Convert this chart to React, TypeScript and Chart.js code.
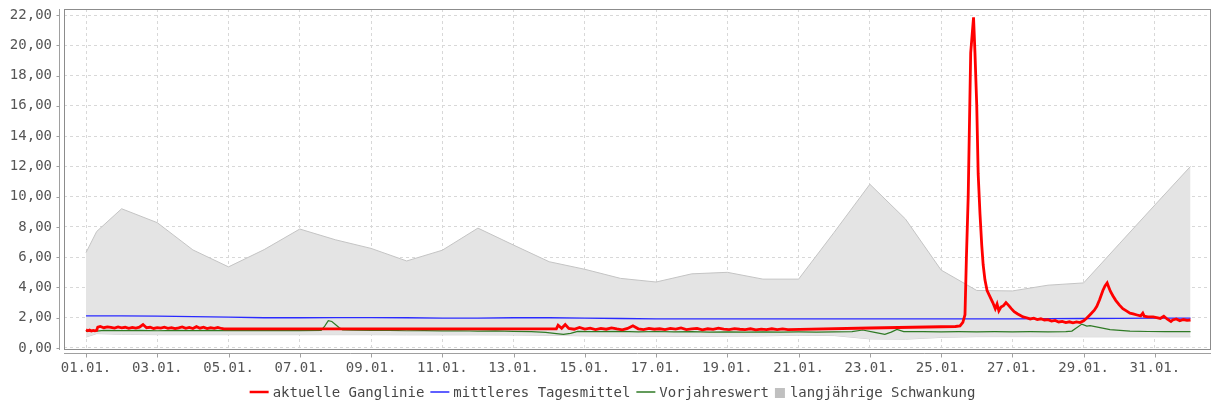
import React, { useEffect, useRef } from 'react';
import { Chart, registerables } from 'chart.js';

Chart.register(...registerables);

// ---- axis ticks ----
const xTickDays = [0, 2, 4, 6, 8, 10, 12, 14, 16, 18, 20, 22, 24, 26, 28, 30];
const xTickLabels = ['01.01.', '03.01.', '05.01.', '07.01.', '09.01.', '11.01.', '13.01.', '15.01.', '17.01.', '19.01.', '21.01.', '23.01.', '25.01.', '27.01.', '29.01.', '31.01.'];
const yTickValues = [0, 2, 4, 6, 8, 10, 12, 14, 16, 18, 20, 22];
const yTickLabels = ['0,00', '2,00', '4,00', '6,00', '8,00', '10,00', '12,00', '14,00', '16,00', '18,00', '20,00', '22,00'];

// ---- legend ----
const legendLabels = ['aktuelle Ganglinie', 'mittleres Tagesmittel', 'Vorjahreswert', 'langjährige Schwankung'];

// ---- langjährige Schwankung (band) ----
const bandDays = [0, 0.3, 1, 2, 3, 4, 5, 6, 7, 8, 9, 10, 11, 12, 13, 14, 15, 16, 17, 18, 19, 20, 21, 22, 23, 24, 25, 26, 27, 28, 29, 30, 31];
const bandUpper = [6.3, 7.7, 9.2, 8.28, 6.48, 5.36, 6.5, 7.86, 7.15, 6.58, 5.75, 6.46, 7.92, 6.8, 5.7, 5.2, 4.6, 4.36, 4.9, 5.0, 4.55, 4.55, 7.65, 10.82, 8.52, 5.15, 3.8, 3.77, 4.15, 4.3, 6.88, 9.45, 12.0];
const bandLower = [0.72, 0.95, 0.9, 0.88, 0.88, 0.88, 0.88, 0.88, 0.88, 0.88, 0.87, 0.87, 0.87, 0.86, 0.84, 0.8, 0.78, 0.76, 0.76, 0.78, 0.8, 0.84, 0.82, 0.6, 0.58, 0.7, 0.75, 0.75, 0.75, 0.74, 0.74, 0.74, 0.74];

// ---- mittleres Tagesmittel ----
const meanDays = [0, 1, 2, 3, 4, 5, 6, 7, 8, 9, 10, 11, 12, 13, 14, 15, 16, 17, 18, 19, 20, 21, 22, 23, 24, 25, 26, 27, 28, 29, 30, 31];
const meanValues = [2.12, 2.12, 2.1, 2.07, 2.04, 2.0, 2.0, 2.01, 2.01, 2.0, 1.98, 1.98, 2.0, 2.0, 1.98, 1.95, 1.93, 1.93, 1.93, 1.93, 1.92, 1.92, 1.92, 1.92, 1.92, 1.92, 1.93, 1.94, 1.95, 1.96, 1.97, 1.98];

// ---- aktuelle Ganglinie [day, value] ----
const currentSeries: [number, number][] = [
  [0, 1.2], [0.05, 1.14], [0.1, 1.18], [0.15, 1.12], [0.2, 1.16], [0.25, 1.13], [0.3, 1.17],
  [0.33, 1.38], [0.4, 1.42], [0.5, 1.34], [0.6, 1.4], [0.7, 1.36], [0.8, 1.31], [0.9, 1.39], [1.0, 1.33],
  [1.1, 1.37], [1.2, 1.3], [1.3, 1.36], [1.4, 1.32], [1.5, 1.38], [1.6, 1.55], [1.7, 1.34], [1.8, 1.37],
  [1.9, 1.29], [2.0, 1.35], [2.1, 1.31], [2.2, 1.37], [2.3, 1.3], [2.4, 1.34], [2.5, 1.28], [2.6, 1.33],
  [2.7, 1.39], [2.8, 1.3], [2.9, 1.36], [3.0, 1.29], [3.1, 1.41], [3.2, 1.31], [3.3, 1.37], [3.4, 1.28],
  [3.5, 1.34], [3.6, 1.3], [3.7, 1.36], [3.8, 1.29], [3.87, 1.26], [13.2, 1.26],
  [13.25, 1.5], [13.35, 1.3], [13.45, 1.55], [13.55, 1.29], [13.7, 1.24], [13.85, 1.36], [14.0, 1.25],
  [14.15, 1.31], [14.3, 1.22], [14.45, 1.29], [14.6, 1.24], [14.75, 1.33], [14.9, 1.26], [15.05, 1.2],
  [15.2, 1.29], [15.35, 1.47], [15.5, 1.27], [15.65, 1.22], [15.8, 1.3], [15.95, 1.24], [16.1, 1.27],
  [16.25, 1.21], [16.4, 1.29], [16.55, 1.25], [16.7, 1.33], [16.85, 1.22], [17.0, 1.26], [17.15, 1.3],
  [17.3, 1.2], [17.45, 1.27], [17.6, 1.23], [17.75, 1.31], [17.9, 1.25], [18.05, 1.21], [18.2, 1.28],
  [18.35, 1.24], [18.5, 1.22], [18.65, 1.27], [18.8, 1.2], [18.95, 1.25], [19.1, 1.21], [19.25, 1.27],
  [19.4, 1.22], [19.55, 1.26], [19.7, 1.22],
  [22.0, 1.32], [24.4, 1.42], [24.53, 1.46], [24.61, 1.7], [24.67, 2.2], [24.71, 6], [24.76, 10],
  [24.83, 19.5], [24.91, 21.85], [24.95, 19.5], [25.0, 16], [25.04, 11.5], [25.09, 8.9], [25.14, 6.8],
  [25.18, 5.5], [25.23, 4.5], [25.29, 3.8], [25.37, 3.4], [25.45, 3.0], [25.52, 2.6], [25.57, 2.9],
  [25.62, 2.45], [25.68, 2.7], [25.75, 2.8], [25.82, 3.0], [25.9, 2.8], [25.97, 2.6], [26.05, 2.4],
  [26.15, 2.25], [26.3, 2.05], [26.4, 2.0], [26.5, 1.92], [26.6, 1.97], [26.7, 1.88], [26.8, 1.93],
  [26.9, 1.85], [27.0, 1.87], [27.1, 1.78], [27.2, 1.82], [27.3, 1.72], [27.4, 1.76], [27.5, 1.68],
  [27.6, 1.73], [27.7, 1.66], [27.8, 1.72], [27.9, 1.68], [28.0, 1.8], [28.09, 1.98], [28.2, 2.25],
  [28.3, 2.5], [28.37, 2.75], [28.45, 3.2], [28.54, 3.8], [28.6, 4.1], [28.66, 4.3], [28.7, 4.05],
  [28.75, 3.75], [28.82, 3.45], [28.9, 3.15], [29.0, 2.85], [29.1, 2.6], [29.2, 2.45], [29.3, 2.3],
  [29.39, 2.25], [29.5, 2.18], [29.6, 2.12], [29.66, 2.3], [29.7, 2.1], [29.8, 2.05], [29.95, 2.05],
  [30.05, 2.0], [30.15, 1.95], [30.25, 2.1], [30.35, 1.9], [30.45, 1.75], [30.5, 1.85], [30.6, 1.92],
  [30.7, 1.8], [30.8, 1.88], [30.9, 1.82], [31.0, 1.85],
];

// ---- Vorjahreswert [day, value] ----
const previousYearSeries: [number, number][] = [
  [0, 1.1], [0.3, 1.12], [0.5, 1.17], [1, 1.15], [1.5, 1.17], [2, 1.14], [2.5, 1.17], [3, 1.15],
  [3.5, 1.17], [4, 1.15], [4.5, 1.17], [5, 1.15], [5.5, 1.17], [6, 1.15], [6.6, 1.16], [6.7, 1.45],
  [6.8, 1.8], [6.9, 1.75], [7.0, 1.55], [7.1, 1.35], [7.2, 1.2], [7.5, 1.18], [8, 1.16], [8.5, 1.17],
  [9, 1.14], [9.5, 1.15], [10, 1.13], [10.5, 1.14], [11, 1.12], [11.5, 1.13], [12, 1.1], [12.5, 1.08],
  [12.9, 1.03], [13.2, 0.95], [13.4, 0.9], [13.6, 0.97], [13.8, 1.1], [14.2, 1.08], [15, 1.1],
  [15.5, 1.07], [16, 1.09], [16.5, 1.06], [17, 1.08], [17.5, 1.05], [18, 1.07], [18.5, 1.05], [19, 1.07],
  [19.5, 1.05], [20, 1.06], [20.5, 1.05], [21, 1.07], [21.5, 1.08], [21.8, 1.19], [22.1, 1.05],
  [22.42, 0.9], [22.6, 1.05], [22.76, 1.23], [22.95, 1.08], [23.5, 1.08], [24, 1.07], [24.5, 1.08],
  [25, 1.07], [25.5, 1.08], [26, 1.07], [26.5, 1.08], [27, 1.07], [27.5, 1.08], [27.67, 1.12],
  [27.95, 1.58], [28.09, 1.45], [28.18, 1.48], [28.46, 1.35], [28.74, 1.22], [29.3, 1.12], [29.8, 1.09],
  [30.3, 1.08], [31, 1.08],
];

const FONT = "'DejaVu Sans Mono', monospace";
const RED = '#ff0000';
const BLUE = '#2a2aff';
const GREEN = '#2f7a25';
const BAND_FILL = '#e4e4e4';
const BAND_LEGEND = '#c0c0c0';

const framePlugin = {
  id: 'jfreeFrame',
  afterDraw(chart: any) {
    const { ctx, chartArea: a, scales } = chart;
    ctx.save();
    ctx.lineWidth = 1;
    // plot outline
    ctx.strokeStyle = '#8c8c8c';
    ctx.strokeRect(a.left + 0.5, a.top + 0.5, a.right - a.left - 1, a.bottom - a.top - 1);
    // offset axis lines and tick marks
    ctx.strokeStyle = '#a0a0a0';
    ctx.beginPath();
    const ax = a.left - 4.5;
    ctx.moveTo(ax, a.top);
    ctx.lineTo(ax, a.bottom);
    yTickValues.forEach((v) => {
      const py = Math.round(scales.y.getPixelForValue(v)) + 0.5;
      ctx.moveTo(ax - 3, py);
      ctx.lineTo(ax, py);
    });
    const ay = a.bottom + 3.5;
    ctx.moveTo(a.left, ay);
    ctx.lineTo(a.right, ay);
    xTickDays.forEach((v) => {
      const px = Math.round(scales.x.getPixelForValue(v)) + 0.5;
      ctx.moveTo(px, ay);
      ctx.lineTo(px, ay + 4);
    });
    ctx.stroke();
    ctx.restore();
  },
};

const legendPlugin = {
  id: 'jfreeLegend',
  afterDraw(chart: any) {
    const { ctx } = chart;
    ctx.save();
    ctx.font = `14px ${FONT}`;
    ctx.textBaseline = 'alphabetic';
    const symbols = [
      { kind: 'line', color: RED, width: 2.5 },
      { kind: 'line', color: BLUE, width: 1.5 },
      { kind: 'line', color: GREEN, width: 1.5 },
      { kind: 'box', color: BAND_LEGEND, width: 0 },
    ];
    const items = legendLabels.map((t, i) => {
      const s = symbols[i];
      const symW = s.kind === 'line' ? 19 : 10;
      const gap = s.kind === 'line' ? 4 : 5;
      return { text: t, s, symW, gap, textW: ctx.measureText(t).width };
    });
    const between = 6;
    const total = items.reduce((acc, it) => acc + it.symW + it.gap + it.textW, 0) + between * (items.length - 1);
    const centerX = 612.5;
    const cy = 392;
    let x = centerX - total / 2;
    items.forEach((it) => {
      if (it.s.kind === 'line') {
        ctx.strokeStyle = it.s.color;
        ctx.lineWidth = it.s.width;
        ctx.beginPath();
        ctx.moveTo(x, cy);
        ctx.lineTo(x + it.symW, cy);
        ctx.stroke();
      } else {
        ctx.fillStyle = it.s.color;
        ctx.fillRect(x, cy - 4, it.symW, 10);
      }
      x += it.symW + it.gap;
      ctx.fillStyle = '#474747';
      ctx.fillText(it.text, x, cy + 5);
      x += it.textW + between;
    });
    ctx.restore();
  },
};

const toPoints = (xs: number[], ys: number[]) => xs.map((x, i) => ({ x, y: ys[i] }));
const pairPoints = (arr: [number, number][]) => arr.map(([x, y]) => ({ x, y }));

export default function App() {
  const ref = useRef<HTMLCanvasElement>(null);

  useEffect(() => {
    if (!ref.current) return;
    const chart = new Chart(ref.current, {
      type: 'line',
      data: {
        datasets: [
          {
            label: legendLabels[0],
            data: pairPoints(currentSeries),
            borderColor: RED,
            borderWidth: 2.8,
            pointRadius: 0,
            tension: 0,
            fill: false,
            order: 0,
          },
          {
            label: legendLabels[1],
            data: toPoints(meanDays, meanValues),
            borderColor: BLUE,
            borderWidth: 1.3,
            pointRadius: 0,
            tension: 0,
            fill: false,
            order: 1,
          },
          {
            label: legendLabels[2],
            data: pairPoints(previousYearSeries),
            borderColor: GREEN,
            borderWidth: 1.2,
            pointRadius: 0,
            tension: 0,
            fill: false,
            order: 2,
          },
          {
            label: legendLabels[3],
            data: toPoints(bandDays, bandUpper),
            borderColor: '#c4c4c4',
            backgroundColor: BAND_FILL,
            borderWidth: 1,
            pointRadius: 0,
            tension: 0,
            fill: '+1',
            order: 3,
          },
          {
            label: legendLabels[3] + ' (min)',
            data: toPoints(bandDays, bandLower),
            borderColor: '#cdcdcd',
            borderWidth: 1,
            pointRadius: 0,
            tension: 0,
            fill: false,
            order: 4,
          },
        ],
      },
      options: {
        responsive: false,
        animation: false,
        devicePixelRatio: 1,
        layout: { padding: { top: 9, right: 1, left: 0, bottom: 0 }, autoPadding: false },
        plugins: {
          legend: { display: false },
          title: { display: false },
          tooltip: { enabled: false },
        },
        scales: {
          x: {
            type: 'linear',
            min: -22 / 35.63,
            max: (1211 - 86) / 35.63,
            afterBuildTicks: (scale: any) => {
              scale.ticks = xTickDays.map((v) => ({ value: v }));
            },
            afterFit: (scale: any) => {
              scale.height = 55;
              scale.paddingLeft = 0;
              scale.paddingRight = 0;
            },
            ticks: {
              autoSkip: false,
              maxRotation: 0,
              padding: 10,
              color: '#555555',
              font: { family: FONT, size: 14 },
              callback: (_v: any, i: number) => xTickLabels[i],
            },
            grid: { color: '#d8d8d8', lineWidth: 1, drawTicks: false },
            border: { display: false, dash: [3, 3] },
          },
          y: {
            type: 'linear',
            min: -2 / 15.136,
            max: 22 + 6 / 15.136,
            afterBuildTicks: (scale: any) => {
              scale.ticks = yTickValues.map((v) => ({ value: v }));
            },
            afterFit: (scale: any) => {
              scale.width = 64;
              scale.paddingTop = 0;
              scale.paddingBottom = 0;
            },
            ticks: {
              autoSkip: false,
              padding: 12,
              color: '#555555',
              font: { family: FONT, size: 14 },
              callback: (_v: any, i: number) => yTickLabels[i],
            },
            grid: { color: '#d8d8d8', lineWidth: 1, drawTicks: false },
            border: { display: false, dash: [3, 3] },
          },
        },
      },
      plugins: [framePlugin, legendPlugin],
    } as any);
    return () => chart.destroy();
  }, []);

  return (
    <div style={{ position: 'fixed', left: 0, top: 0, width: 1212, height: 405, background: '#ffffff' }}>
      <canvas ref={ref} width={1212} height={405} style={{ display: 'block' }} />
    </div>
  );
}
